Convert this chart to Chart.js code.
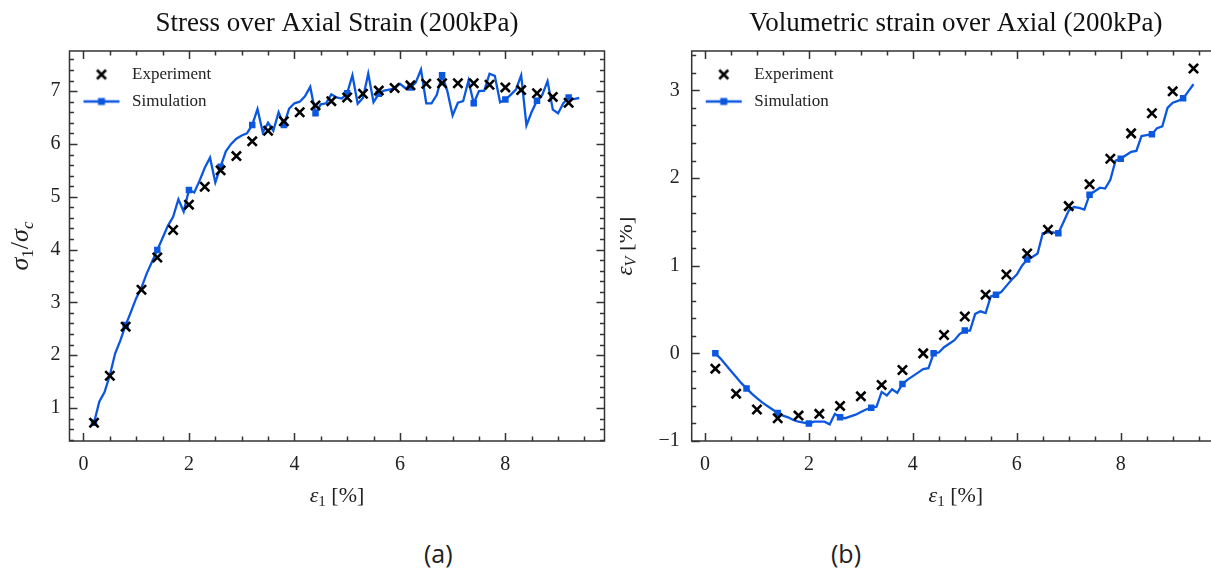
<!DOCTYPE html>
<html>
<head>
<meta charset="utf-8">
<script src="https://cdn.jsdelivr.net/npm/chart.js@4/dist/chart.umd.min.js"></script>
<style>
  html, body { margin: 0; padding: 0; background: #fff; overflow: hidden; }
  body { width: 1211px; height: 575px; position: relative; }
  .panel { position: absolute; top: 0; width: 620px; height: 520px; }
  .cap { position: absolute; top: 536px; font-family: "Open Sans", sans-serif; font-size: 25px; color: #222; }
</style>
</head>
<body>
<div class="panel" style="left:0"><canvas id="stressChart" width="620" height="520"></canvas></div>
<div class="panel" style="left:620px"><canvas id="volChart" width="620" height="520"></canvas></div>
<div class="cap" style="left:424px">(a)</div>
<div class="cap" style="left:831px">(b)</div>
<script>
// Axial strain of the simulation output [%]
const simStrain = [
  0.2, 0.3, 0.4, 0.5, 0.6, 0.7, 0.8, 0.9, 1.0,
  1.1, 1.2, 1.3, 1.4, 1.5, 1.6, 1.7, 1.8, 1.9, 2.0,
  2.1, 2.2, 2.3, 2.4, 2.5, 2.6, 2.7, 2.8, 2.9, 3.0,
  3.1, 3.2, 3.3, 3.4, 3.5, 3.6, 3.7, 3.8, 3.9, 4.0,
  4.1, 4.2, 4.3, 4.4, 4.5, 4.6, 4.7, 4.8, 4.9, 5.0,
  5.1, 5.2, 5.3, 5.4, 5.5, 5.6, 5.7, 5.8, 5.9, 6.0,
  6.1, 6.2, 6.3, 6.4, 6.5, 6.6, 6.7, 6.8, 6.9, 7.0,
  7.1, 7.2, 7.3, 7.4, 7.5, 7.6, 7.7, 7.8, 7.9, 8.0,
  8.1, 8.2, 8.3, 8.4, 8.5, 8.6, 8.7, 8.8, 8.9, 9.0,
  9.1, 9.2, 9.3, 9.4
];

// (a) stress ratio sigma1/sigmac
const stressSim = [
  0.72, 1.12, 1.30, 1.62, 2.03, 2.28, 2.57, 2.82, 3.08,
  3.28, 3.55, 3.77, 3.99, 4.22, 4.45, 4.62, 4.95, 4.72, 5.13,
  5.08, 5.30, 5.55, 5.74, 5.27, 5.57, 5.86, 6.00, 6.10, 6.16,
  6.20, 6.36, 6.66, 6.22, 6.40, 6.25, 6.60, 6.36, 6.67, 6.77,
  6.80, 6.90, 7.08, 6.58, 6.75, 6.77, 6.94, 6.88, 6.86, 6.96,
  7.30, 6.76, 6.87, 7.33, 6.79, 6.95, 7.01, 7.03, 7.05, 7.14,
  7.06, 7.07, 7.16, 7.41, 6.77, 6.77, 6.93, 7.30, 7.00, 6.54,
  6.78, 6.81, 7.20, 6.77, 7.00, 7.01, 7.33, 7.29, 6.79, 6.84,
  6.93, 7.03, 7.30, 6.35, 6.61, 6.82, 6.93, 7.19, 6.65, 6.58,
  6.77, 6.88, 6.85, 6.87
];
const expStrainA = [0.2, 0.5, 0.8, 1.1, 1.4, 1.7, 2.0, 2.3, 2.6, 2.9, 3.2, 3.5, 3.8, 4.1, 4.4, 4.7,
  5.0, 5.3, 5.6, 5.9, 6.2, 6.5, 6.8, 7.1, 7.4, 7.7, 8.0, 8.3, 8.6, 8.9, 9.2];
const stressExp = [0.72, 1.61, 2.54, 3.24, 3.85, 4.37, 4.85, 5.19, 5.50, 5.77, 6.05, 6.25, 6.43, 6.60, 6.73, 6.81,
  6.88, 6.95, 7.01, 7.06, 7.11, 7.14, 7.15, 7.15, 7.15, 7.12, 7.07, 7.02, 6.96, 6.89, 6.78];

// (b) volumetric strain [%]
const volSim = [
  0.00, -0.06, -0.13, -0.20, -0.27, -0.34, -0.40, -0.46, -0.51,
  -0.56, -0.60, -0.64, -0.68, -0.71, -0.73, -0.76, -0.78, -0.79, -0.80,
  -0.78, -0.78, -0.78, -0.81, -0.69, -0.73, -0.74, -0.72, -0.70, -0.67,
  -0.64, -0.62, -0.61, -0.44, -0.48, -0.41, -0.45, -0.35, -0.30, -0.26,
  -0.22, -0.18, -0.17, 0.00, 0.01, 0.07, 0.11, 0.15, 0.22, 0.26,
  0.26, 0.45, 0.48, 0.46, 0.65, 0.67, 0.70, 0.77, 0.84, 0.90,
  1.00, 1.07, 1.10, 1.14, 1.37, 1.38, 1.38, 1.37, 1.50, 1.63,
  1.67, 1.66, 1.64, 1.81, 1.85, 1.89, 1.88, 1.98, 2.20, 2.22,
  2.26, 2.30, 2.31, 2.48, 2.49, 2.50, 2.57, 2.59, 2.80, 2.86,
  2.88, 2.91, 2.99, 3.07
];
const expStrainB = [0.2, 0.6, 1.0, 1.4, 1.8, 2.2, 2.6, 3.0, 3.4, 3.8, 4.2, 4.6,
  5.0, 5.4, 5.8, 6.2, 6.6, 7.0, 7.4, 7.8, 8.2, 8.6, 9.0, 9.4];
const volExp = [-0.175, -0.46, -0.64, -0.74, -0.71, -0.69, -0.60, -0.49, -0.36, -0.19, 0.00, 0.21,
  0.42, 0.67, 0.90, 1.14, 1.41, 1.68, 1.93, 2.22, 2.51, 2.74, 2.99, 3.25];

// Tick labels
const strainTicks = [0, 2, 4, 6, 8];
const stressTicks = [1, 2, 3, 4, 5, 6, 7];
const volTicks = [-1, 0, 1, 2, 3];

const SERIF = '"Liberation Serif", "DejaVu Serif", serif';
const BLUE = '#0b57df';
const INK = '#222';

// legend icons drawn into small canvases (used as point styles)
function legendIcon(kind) {
  const c = document.createElement('canvas');
  c.width = 44; c.height = 16;
  const g = c.getContext('2d');
  if (kind === 'sim') {
    g.strokeStyle = BLUE; g.lineWidth = 2.3;
    g.beginPath(); g.moveTo(4, 8); g.lineTo(40, 8); g.stroke();
    g.fillStyle = BLUE; g.fillRect(18.5, 4.5, 7, 7);
  } else {
    g.strokeStyle = '#000'; g.lineWidth = 2.6;
    g.beginPath();
    g.moveTo(17.5, 3.5); g.lineTo(26.5, 12.5);
    g.moveTo(26.5, 3.5); g.lineTo(17.5, 12.5);
    g.stroke();
  }
  return c;
}
const expIcon = legendIcon('exp');
const simIcon = legendIcon('sim');

// keep the chartArea legend inside the plot, top-left
const legendInside = {
  id: 'legendInside',
  afterLayout(chart) {
    const l = chart.legend, a = chart.chartArea;
    if (!l) return;
    l.top = a.top + 5;
    l.bottom = a.bottom;
    l.left = a.left;
  }
};

// frame + inward ticks on all four sides
const boxTicks = {
  id: 'boxTicks',
  afterDatasetsDraw(chart, args, opts) {
    const { ctx, chartArea: a, scales: { x, y } } = chart;
    ctx.save();
    ctx.strokeStyle = '#333';
    ctx.lineWidth = 1.5;
    ctx.strokeRect(a.left, a.top, a.right - a.left, a.bottom - a.top);
    const vals = (scale, step) => {
      const out = [];
      for (let v = Math.ceil(scale.min / step) * step; v <= scale.max + 1e-9; v += step) out.push(+v.toFixed(4));
      return out;
    };
    const isMajor = (v, majors) => majors.some(m => Math.abs(m - v) < 1e-6);
    ctx.beginPath();
    vals(x, opts.xMinor).forEach(v => {
      const px = Math.round(x.getPixelForValue(v)) + 0.5;
      const len = isMajor(v, opts.xMajor) ? 8 : 4.5;
      ctx.moveTo(px, a.bottom); ctx.lineTo(px, a.bottom - len);
      ctx.moveTo(px, a.top); ctx.lineTo(px, a.top + len);
    });
    vals(y, opts.yMinor).forEach(v => {
      const py = Math.round(y.getPixelForValue(v)) + 0.5;
      const len = isMajor(v, opts.yMajor) ? 8 : 4.5;
      ctx.moveTo(a.left, py); ctx.lineTo(a.left + len, py);
      ctx.moveTo(a.right, py); ctx.lineTo(a.right - len, py);
    });
    ctx.stroke();
    ctx.restore();
  }
};

// axis titles with sub-scripts
function drawMath(ctx, parts, cx, cy, rotate) {
  ctx.save();
  ctx.translate(cx, cy);
  if (rotate) ctx.rotate(-Math.PI / 2);
  const fontOf = p => (p.italic ? 'italic ' : '') + p.size + 'px ' + SERIF;
  let total = 0;
  parts.forEach(p => { ctx.font = fontOf(p); p.w = ctx.measureText(p.t).width; total += p.w; });
  let x = -total / 2;
  ctx.fillStyle = INK;
  ctx.textBaseline = 'alphabetic';
  parts.forEach(p => {
    ctx.font = fontOf(p);
    ctx.fillText(p.t, x, 7 + (p.dy || 0));
    x += p.w;
  });
  ctx.restore();
}
const mathTitles = {
  id: 'mathTitles',
  afterDraw(chart, args, opts) {
    const { ctx, chartArea: a } = chart;
    drawMath(ctx, opts.x, (a.left + a.right) / 2, opts.xAt, false);
    drawMath(ctx, opts.y, opts.yAt, (a.top + a.bottom) / 2, true);
  }
};

function makeChart(id, cfg) {
  const ctx = document.getElementById(id).getContext('2d');
  return new Chart(ctx, {
    type: 'scatter',
    data: {
      datasets: [{
        label: 'Experiment',
        data: cfg.expX.map((v, i) => ({ x: v, y: cfg.expY[i] })),
        showLine: false,
        pointStyle: 'crossRot',
        pointRadius: 6.5,
        pointBorderWidth: 2.6,
        borderColor: '#000',
        backgroundColor: '#000'
      }, {
        label: 'Simulation',
        data: simStrain.map((v, i) => ({ x: v, y: cfg.simY[i] })),
        showLine: true,
        borderColor: BLUE,
        borderWidth: 2.3,
        backgroundColor: BLUE,
        pointStyle: 'rect',
        pointRadius: c => (c.dataIndex % 6 === 0 ? 4.6 : 0),
        pointBorderWidth: 0,
        tension: 0
      }]
    },
    options: {
      responsive: false,
      animation: false,
      events: [],
      layout: { padding: { left: 0, right: cfg.padRight, top: 0, bottom: 0 } },
      plugins: {
        tooltip: { enabled: false },
        title: {
          display: true,
          text: cfg.title,
          fullSize: false,
          color: '#111',
          font: { family: SERIF, size: 27, weight: 'normal' },
          padding: { top: 8, bottom: 10.6 }
        },
        legend: {
          position: 'chartArea',
          align: 'start',
          labels: {
            usePointStyle: true,
            pointStyleWidth: 44,
            padding: 10,
            color: INK,
            font: { family: SERIF, size: 17 },
            generateLabels: () => [
              { text: 'Experiment', pointStyle: expIcon, datasetIndex: 0, hidden: false, lineWidth: 0, fontColor: INK },
              { text: 'Simulation', pointStyle: simIcon, datasetIndex: 1, hidden: false, lineWidth: 0, fontColor: INK }
            ]
          }
        },
        boxTicks: { xMajor: strainTicks, xMinor: 0.5, yMajor: cfg.yTicks, yMinor: 0.2 },
        mathTitles: cfg.math
      },
      scales: {
        x: {
          type: 'linear',
          min: cfg.xMin, max: cfg.xMax,
          grid: { display: false, drawTicks: false },
          border: { display: false },
          afterBuildTicks: s => { s.ticks = strainTicks.map(v => ({ value: v })); },
          afterFit: s => { s.height = 79; },
          ticks: { color: INK, font: { family: SERIF, size: 20 }, padding: 12 }
        },
        y: {
          min: cfg.yMin, max: cfg.yMax,
          grid: { display: false, drawTicks: false },
          border: { display: false },
          afterBuildTicks: s => { s.ticks = cfg.yTicks.map(v => ({ value: v })); },
          afterFit: s => { s.width = cfg.yWidth; },
          ticks: {
            color: INK, font: { family: SERIF, size: 20 }, padding: cfg.yPad,
            callback: v => String(v).replace('-', '\u2212')
          }
        }
      }
    },
    plugins: [legendInside, boxTicks, mathTitles]
  });
}

makeChart('stressChart', {
  title: 'Stress over Axial Strain (200kPa)',
  expX: expStrainA, expY: stressExp, simY: stressSim,
  xMin: -0.265, xMax: 9.88, yMin: 0.375, yMax: 7.76,
  yTicks: stressTicks, yWidth: 69.5, yPad: 9, padRight: 15.5,
  math: {
    xAt: 495, yAt: 21,
    x: [{ t: '\u03b5', italic: true, size: 22 }, { t: '1', size: 15, dy: 4 }, { t: ' [%]', size: 22 }],
    y: [{ t: '\u03c3', italic: true, size: 26 }, { t: '1', size: 17, dy: 5 }, { t: '/', size: 26 },
        { t: '\u03c3', italic: true, size: 26 }, { t: 'c', italic: true, size: 17, dy: 5 }]
  }
});

makeChart('volChart', {
  title: 'Volumetric strain over Axial (200kPa)',
  expX: expStrainB, expY: volExp, simY: volSim,
  xMin: -0.255, xMax: 9.91, yMin: -1.0, yMax: 3.45,
  yTicks: volTicks, yWidth: 71.7, yPad: 12, padRight: 20,
  math: {
    xAt: 495, yAt: 5,
    x: [{ t: '\u03b5', italic: true, size: 22 }, { t: '1', size: 15, dy: 4 }, { t: ' [%]', size: 22 }],
    y: [{ t: '\u03b5', italic: true, size: 23 }, { t: 'V', italic: true, size: 16, dy: 4 }, { t: ' [%]', size: 23 }]
  }
});
</script>
</body>
</html>
